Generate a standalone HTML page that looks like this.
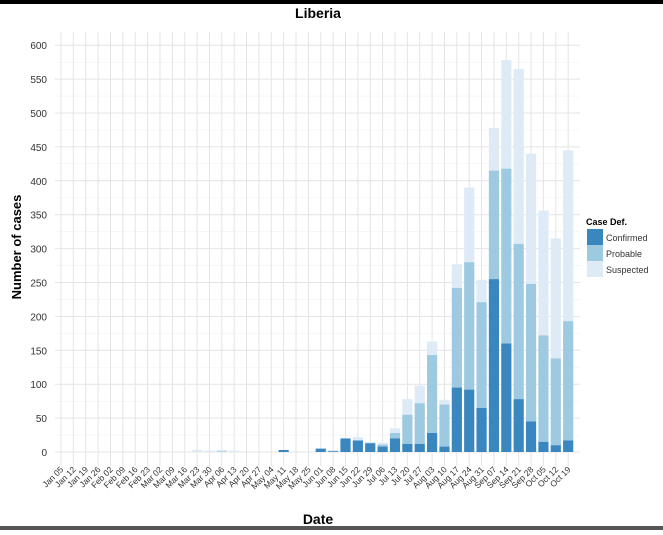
<!DOCTYPE html>
<html><head><meta charset="utf-8"><style>
html,body{margin:0;padding:0;background:#fff;}
body{width:663px;height:530px;overflow:hidden;position:relative;font-family:"Liberation Sans",sans-serif;}
</style></head><body>
<svg id="s" width="663" height="530" xmlns="http://www.w3.org/2000/svg" font-family="Liberation Sans, sans-serif">
<rect x="0" y="0" width="663" height="4" fill="#000"/>
<rect x="0" y="526" width="663" height="4" fill="#555"/>
<text x="318" y="18" font-size="14" font-weight="bold" text-anchor="middle">Liberia</text>
<text x="318" y="524" font-size="14" font-weight="bold" text-anchor="middle">Date</text>
<text transform="translate(21,247) rotate(-90)" font-size="13" font-weight="bold" text-anchor="middle">Number of cases</text>
<text x="586" y="225" font-size="9" font-weight="bold">Case Def.</text>
<rect x="587" y="229" width="16" height="16" fill="#3a87c0"/>
<rect x="587" y="245" width="16" height="16" fill="#9ecae1"/>
<rect x="587" y="261" width="16" height="16" fill="#deebf7"/>
<text x="606" y="241" font-size="9" fill="#333">Confirmed</text>
<text x="606" y="257" font-size="9" fill="#333">Probable</text>
<text x="606" y="273" font-size="9" fill="#333">Suspected</text>
<g id="g"></g>
</svg>
<script>
const g=document.getElementById('g');const NS='http://www.w3.org/2000/svg';
function el(t,a,txt){const e=document.createElementNS(NS,t);for(const k in a)e.setAttribute(k,a[k]);if(txt!==undefined)e.textContent=txt;g.appendChild(e);return e;}
const y0=452,ppu=0.678,x0=61,st=12.37,L=55,R=580,T=32,B=466;
const Y=v=>y0-v*ppu;
// minor grid
for(let v=25;v<=625;v+=50){if(Y(v)>T)el('line',{x1:L,x2:R,y1:Y(v),y2:Y(v),stroke:'#f2f2f2','stroke-width':0.6});}
for(let v=0;v<=600;v+=50){el('line',{x1:L,x2:R,y1:Y(v),y2:Y(v),stroke:'#e4e4e4','stroke-width':1});
el('text',{x:47,y:Y(v)+4,'font-size':10,'text-anchor':'end',fill:'#333'},String(v));}
const lab=['Jan 05','Jan 12','Jan 19','Jan 26','Feb 02','Feb 09','Feb 16','Feb 23','Mar 02','Mar 09','Mar 16','Mar 23','Mar 30','Apr 06','Apr 13','Apr 20','Apr 27','May 04','May 11','May 18','May 25','Jun 01','Jun 08','Jun 15','Jun 22','Jun 29','Jul 06','Jul 13','Jul 20','Jul 27','Aug 03','Aug 10','Aug 17','Aug 24','Aug 31','Sep 07','Sep 14','Sep 21','Sep 28','Oct 05','Oct 12','Oct 19'];
for(let i=0;i<42;i++){const x=x0+i*st;el('line',{x1:x,x2:x,y1:T,y2:B,stroke:'#e4e4e4','stroke-width':1});
el('text',{transform:`translate(${x+3},${470}) rotate(-45)`,'font-size':8.5,'text-anchor':'end',fill:'#333'},lab[i]);}
// data: index: [conf, conf+prob, total]
const d={11:[0,0,3],12:[0,0,2],13:[0,1,3],14:[0,0,2],18:[3,3,3],21:[5,5,5],22:[1,2,2],23:[20,20,20],24:[17,17,22],25:[13,13,15],26:[8,11,14],27:[20,28,35],28:[12,55,78],29:[12,72,98],30:[28,143,163],31:[8,70,77],32:[95,242,277],33:[92,280,390],34:[65,221,254],35:[255,415,478],36:[160,418,578],37:[78,307,565],38:[45,248,440],39:[15,172,356],40:[10,138,315],41:[17,193,445]};
const w=10.2;
for(const k in d){const x=x0+k*st-w/2;const [c,p,t]=d[k];
if(t>p)el('rect',{x,y:Y(t),width:w,height:(t-p)*ppu,fill:'#deebf7'});
if(p>c)el('rect',{x,y:Y(p),width:w,height:(p-c)*ppu,fill:'#9ecae1'});
if(c>0)el('rect',{x,y:Y(c),width:w,height:c*ppu,fill:'#3a87c0'});}
</script>
</body></html>
